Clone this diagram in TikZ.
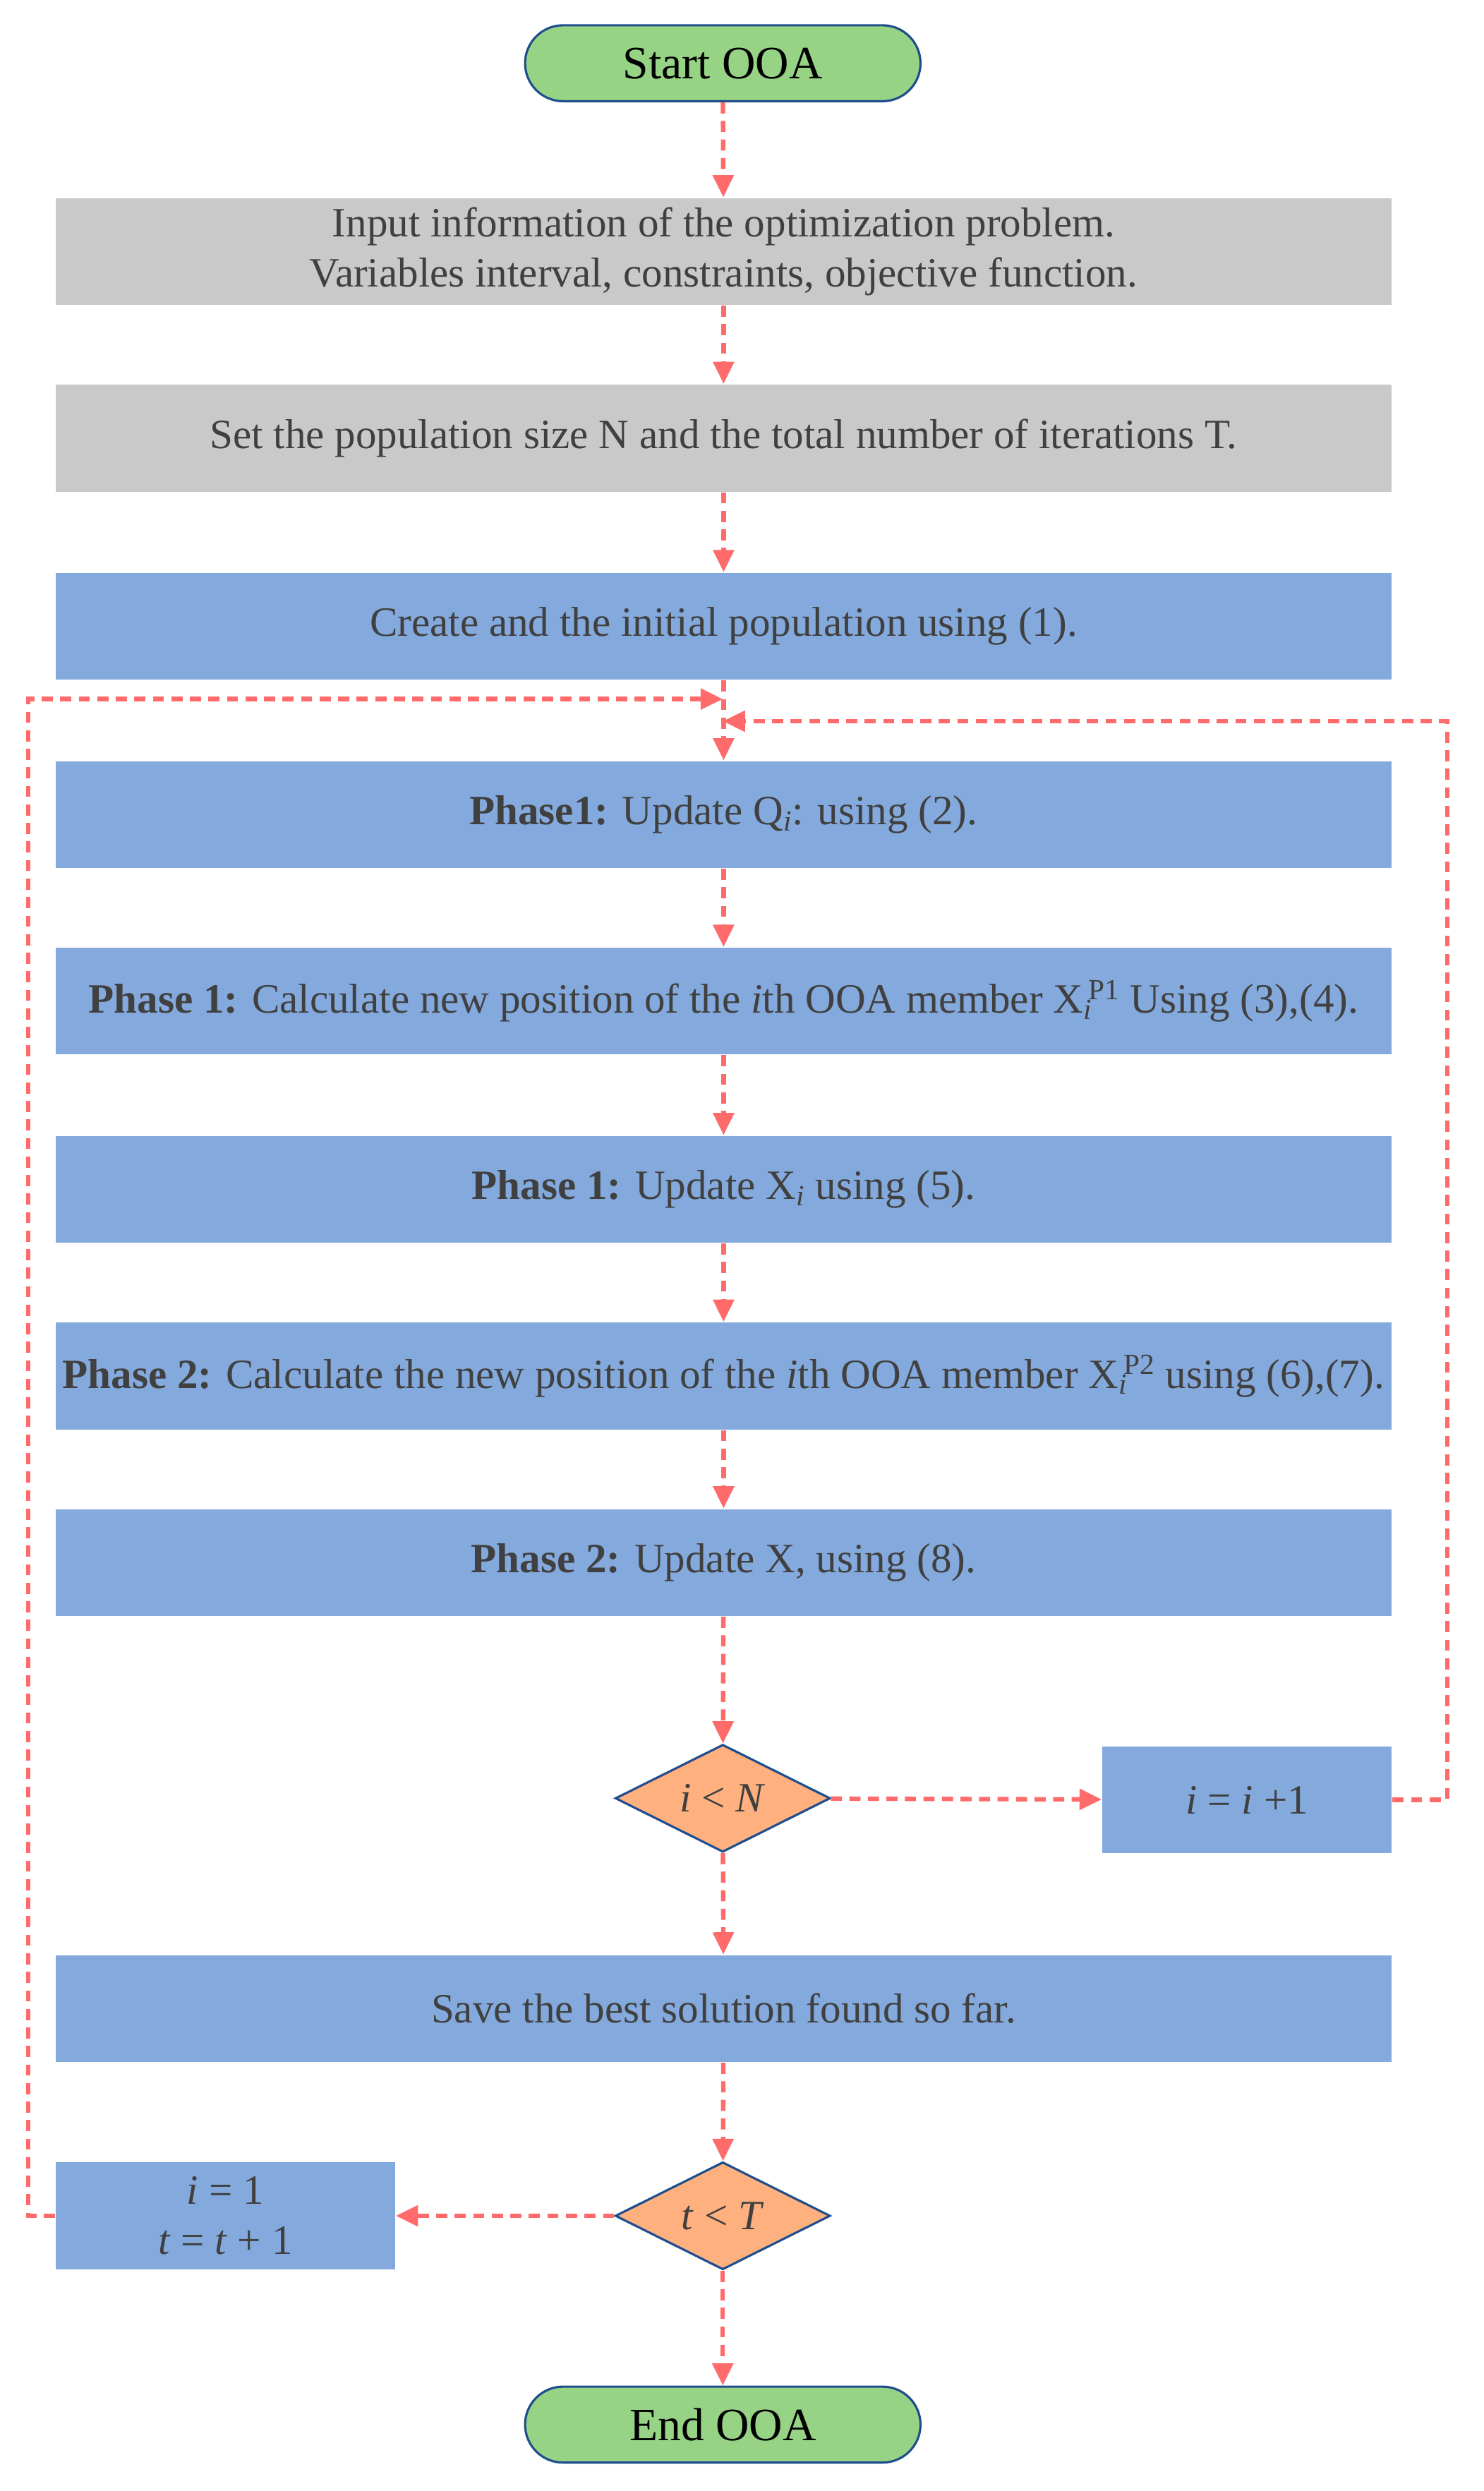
\documentclass[tikz,border=0pt]{standalone}
\usepackage{fontspec}
\setmainfont{Liberation Serif}
\usetikzlibrary{shapes.geometric,arrows.meta}
\definecolor{txt}{HTML}{404040}
\definecolor{grn}{HTML}{97D385}
\definecolor{gry}{HTML}{C9C9C9}
\definecolor{blu}{HTML}{84A9DC}
\definecolor{org}{HTML}{FFB07F}
\definecolor{edge}{HTML}{1F4E8C}
\definecolor{arr}{HTML}{FF6B6B}
\newcommand{\Xsub}[1]{X\rlap{\textsubscript{\textit{i}}}\textsuperscript{\,#1}}
\begin{document}
\begin{tikzpicture}[x=0.03cm,y=-0.03cm,
  every node/.style={text=txt,font=\fontsize{22.5}{27}\selectfont},
  term/.style={draw=edge,line width=1.2pt,fill=grn,rounded corners=0.72cm,minimum width=7.5cm,minimum height=1.44cm,font=\fontsize{25}{28}\selectfont,text=black},
  gbox/.style={fill=gry,draw=white,minimum width=25.35cm,minimum height=2.04cm,align=center},
  bbox/.style={fill=blu,draw=white,minimum width=25.35cm,minimum height=2.04cm,align=center},
  dia/.style={diamond,aspect=2,draw=edge,line width=1.2pt,fill=org,minimum width=4.08cm,minimum height=2.04cm,inner sep=0pt},
  flow/.style={draw=arr,line width=2.4pt,dash pattern=on 6pt off 4pt,-{Triangle[length=12pt,width=11pt]}}]
\useasboundingbox (0,0) rectangle (938,1575);
\node[term] (s) at (457,40) {Start OOA};
\node[gbox] (b1) at (457.5,159) {Input information of the optimization problem.\\Variables interval, constraints, objective function.};
\node[gbox] (b2) at (457.5,277) {Set the population size N and the total number of iterations T.};
\node[bbox] (b3) at (457.5,396) {Create and the initial population using (1).};
\node[bbox] (p1) at (457.5,515) {\textbf{Phase1:} Update Q\textsubscript{\textit{i}}: using (2).};
\node[bbox] (p2) at (457.5,633) {\textbf{Phase 1:} Calculate new position of the \textit{i}th OOA member \Xsub{P1} Using (3),(4).};
\node[bbox] (p3) at (457.5,752) {\textbf{Phase 1:} Update X\textsubscript{\textit{i}} using (5).};
\node[bbox] (p4) at (457.5,870) {\textbf{Phase 2:} Calculate the new position of the \textit{i}th OOA member \Xsub{P2} using (6),(7).};
\node[bbox] (p5) at (457.5,988) {\textbf{Phase 2:} Update X, using (8).};
\node[dia] (d1) at (457,1137) {\textit{i} < \textit{N}};
\node[bbox,minimum width=5.5cm] (inc) at (788.5,1138) {\textit{i} = \textit{i} +1};
\node[bbox] (sv) at (457.5,1270) {Save the best solution found so far.};
\node[dia] (d2) at (457,1401) {\textit{t} < \textit{T}};
\node[bbox,minimum width=6.45cm,align=center] (re) at (142.5,1401) {\textit{i} = 1\\\textit{t} = \textit{t} + 1};
\node[term] (e) at (457,1533) {End OOA};
\coordinate (j1) at (457,456);
\coordinate (j2) at (457,442);
\draw[flow] (s) -- (b1);
\draw[flow] (b1) -- (b2);
\draw[flow] (b2) -- (b3);
\draw[flow] (b3) -- (p1);
\draw[flow] (p1) -- (p2);
\draw[flow] (p2) -- (p3);
\draw[flow] (p3) -- (p4);
\draw[flow] (p4) -- (p5);
\draw[flow] (p5) -- (d1);
\draw[flow] (d1) -- (inc);
\draw[flow] (d1) -- (sv);
\draw[flow] (sv) -- (d2);
\draw[flow] (d2) -- (re);
\draw[flow] (d2) -- (e);
\draw[flow] (inc.east) -- (915,1138) -- (915,456) -- (j1);
\draw[flow] (re.west) -- (18,1401) -- (18,442) -- (j2);
\end{tikzpicture}
\end{document}
